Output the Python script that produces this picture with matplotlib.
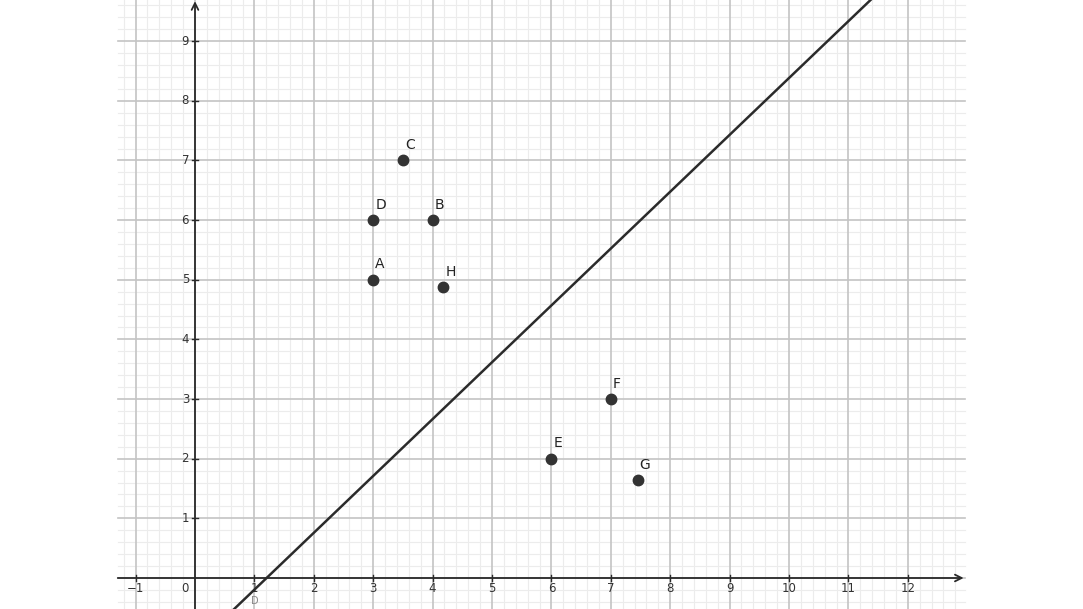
import numpy as np
import matplotlib
matplotlib.use('Agg')
import matplotlib.pyplot as plt

# points
names = ['A', 'B', 'C', 'D', 'E', 'F', 'G', 'H']
px = [3, 4, 3.5, 3, 6, 7, 7.45, 4.18]
py = [5, 6, 7, 6, 2, 3, 1.64, 4.88]

# the line y = m (x - x0)
slope = 0.953
x_root = 1.205

x_ticks = [-1, 1, 2, 3, 4, 5, 6, 7, 8, 9, 10, 11, 12]
y_ticks = [1, 2, 3, 4, 5, 6, 7, 8, 9]

W, H = 1083, 609
fig = plt.figure(figsize=(W / 100, H / 100), dpi=100)
ax = fig.add_axes([0, 0, 1, 1])
ax.set_axis_off()

ppu_x = 59.4
ppu_y = 59.65
x_left = -195 / ppu_x
x_right = (W - 195) / ppu_x
y_top = 578 / ppu_y
y_bot = -(H - 578) / ppu_y
ax.set_xlim(x_left, x_right)
ax.set_ylim(y_bot, y_top)

gx0, gx1 = -1.3, 12.96

# grid
minor = 0.2
for v in np.arange(-1.2, gx1, minor):
    if abs(v - round(v)) > 1e-6:
        ax.plot([v, v], [y_bot, y_top], color='#ececec', lw=0.8, zorder=1)
for v in np.arange(-0.4, y_top, minor):
    if abs(v - round(v)) > 1e-6:
        ax.plot([gx0, gx1], [v, v], color='#ececec', lw=0.8, zorder=1)
for v in range(-1, 13):
    ax.plot([v, v], [y_bot, y_top], color='#c4c4c4', lw=1.2, zorder=2)
for v in range(0, 10):
    ax.plot([gx0, gx1], [v, v], color='#c4c4c4', lw=1.2, zorder=2)

# axes with arrows
ax.annotate('', xy=(gx1 - 0.02, 0), xytext=(gx0, 0),
            arrowprops=dict(arrowstyle='->', color='#2a2a2a', lw=1.3,
                            shrinkA=0, shrinkB=0, mutation_scale=12), zorder=3)
ax.annotate('', xy=(0, y_top - 0.02), xytext=(0, y_bot),
            arrowprops=dict(arrowstyle='->', color='#2a2a2a', lw=1.3,
                            shrinkA=0, shrinkB=0, mutation_scale=12), zorder=3)

tick_len = 0.05
for t in x_ticks:
    ax.plot([t, t], [-tick_len, tick_len], color='#2a2a2a', lw=1, zorder=3)
    ax.text(t, -0.17, str(t).replace('-', '\u2212'), ha='center', va='center',
            fontsize=8.5, color='#333333')
for t in y_ticks:
    ax.plot([-tick_len, tick_len], [t, t], color='#2a2a2a', lw=1, zorder=3)
    ax.text(-0.1, t, str(t), ha='right', va='center', fontsize=8.5, color='#333333')
ax.text(-0.17, -0.17, '0', ha='center', va='center', fontsize=8.5, color='#333333')
ax.text(1.0, -0.38, 'D', ha='center', va='center', fontsize=7, color='#888888')

# the line
lx = np.array([x_left, x_right])
ax.plot(lx, slope * (lx - x_root), color='#2b2b2b', lw=1.8, zorder=4)

# points
ax.plot(px, py, 'o', color='#333333', markersize=7.5, zorder=5)
for n, x, y in zip(names, px, py):
    ax.annotate(n, (x, y), xytext=(1.5, 6), textcoords='offset points',
                fontsize=10, color='#222222', ha='left', va='bottom', zorder=6)

fig.savefig('out.png', dpi=100)
